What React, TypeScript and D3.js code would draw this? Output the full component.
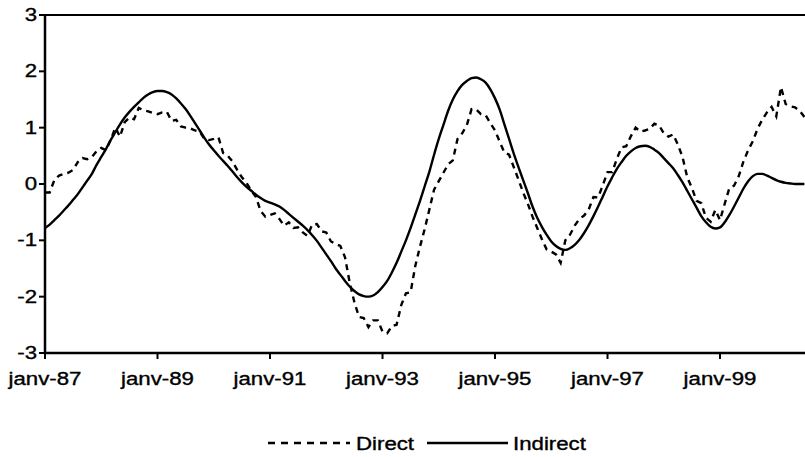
import React from "react";
import * as d3 from "d3";

// monthly values, janv-87 .. ~juil-00
const direct = [
  -0.15, -0.15, 0.07, 0.15, 0.18, 0.2, 0.25, 0.39, 0.46, 0.44, 0.48, 0.58,
  0.64, 0.6, 0.78, 1.0, 0.84, 1.1, 1.18, 1.15, 1.35, 1.31, 1.29, 1.26,
  1.24, 1.27, 1.28, 1.12, 1.14, 1.02, 1.0, 0.99, 0.95, 0.93, 0.8, 0.78,
  0.8, 0.83, 0.55, 0.5, 0.4, 0.25, 0.12, 0.02, -0.12, -0.23, -0.48, -0.58,
  -0.55, -0.52, -0.62, -0.74, -0.68, -0.78, -0.77, -0.86, -0.92, -0.72, -0.71, -0.84,
  -0.86, -1.02, -1.06, -1.1, -1.3, -1.75, -2.1, -2.36, -2.38, -2.54, -2.42, -2.42,
  -2.62, -2.65, -2.52, -2.5, -2.15, -1.94, -1.92, -1.45, -1.11, -0.8, -0.45, -0.1,
  0.05, 0.2, 0.35, 0.42, 0.8, 0.9, 1.05, 1.33, 1.32, 1.24, 1.22, 1.08,
  0.95, 0.75, 0.56, 0.52, 0.3, 0.08, -0.15, -0.35, -0.58, -0.78, -0.98, -1.16,
  -1.2, -1.25, -1.4, -1.0, -0.9, -0.74, -0.62, -0.56, -0.45, -0.23, -0.24, -0.02,
  0.21, 0.21, 0.45, 0.65, 0.67, 0.85, 1.0, 0.93, 0.95, 0.98, 1.07, 1.04,
  0.9, 0.84, 0.88, 0.7, 0.48, 0.12, -0.07, -0.3, -0.34, -0.6, -0.67, -0.46,
  -0.64, -0.35, -0.07, -0.03, 0.14, 0.4, 0.6, 0.76, 0.98, 1.14, 1.27, 1.37,
  1.2, 1.72, 1.42, 1.38, 1.36, 1.3, 1.19,
];

const indirect = [
  -0.78, -0.72, -0.64, -0.56, -0.47, -0.38, -0.28, -0.18, -0.06, 0.06, 0.18, 0.34,
  0.48, 0.62, 0.78, 0.92, 1.06, 1.18, 1.28, 1.37, 1.45, 1.53, 1.59, 1.63,
  1.65, 1.65, 1.63, 1.59, 1.52, 1.43, 1.33, 1.21, 1.08, 0.95, 0.82, 0.7,
  0.6, 0.5, 0.41, 0.32, 0.22, 0.12, 0.03, -0.05, -0.12, -0.19, -0.25, -0.3,
  -0.33, -0.36, -0.4, -0.46, -0.53, -0.6, -0.67, -0.74, -0.82, -0.91, -1.01, -1.13,
  -1.25, -1.37, -1.5, -1.61, -1.72, -1.82, -1.9, -1.96, -1.99, -2.0, -1.98, -1.92,
  -1.83, -1.72, -1.57, -1.4, -1.2, -1.0, -0.78, -0.54, -0.3, -0.04, 0.22, 0.52,
  0.8, 1.05, 1.3, 1.5, 1.65, 1.76, 1.83, 1.88, 1.89, 1.86, 1.8, 1.68,
  1.52, 1.32, 1.06, 0.8, 0.54, 0.3, 0.07, -0.16, -0.4, -0.6, -0.76, -0.9,
  -1.02, -1.1, -1.15, -1.17, -1.14, -1.08, -0.99, -0.87, -0.73, -0.57, -0.4, -0.22,
  -0.04, 0.12, 0.27, 0.39, 0.5, 0.58, 0.64, 0.67, 0.68, 0.66, 0.61, 0.55,
  0.46, 0.37, 0.28, 0.16, 0.03, -0.12, -0.27, -0.42, -0.57, -0.68, -0.76, -0.79,
  -0.77, -0.68, -0.55, -0.4, -0.24, -0.08, 0.05, 0.14, 0.18, 0.18, 0.15, 0.11,
  0.07, 0.04, 0.02, 0.01, 0.0, 0.0, 0.0,
];

const tickMonths = [0, 24, 48, 72, 96, 120, 144];
const tickLabels = ["janv-87", "janv-89", "janv-91", "janv-93", "janv-95", "janv-97", "janv-99"];
const yTicks = [-3, -2, -1, 0, 1, 2, 3];

const W = 805;
const H = 457;
const left = 45;
const right = 805;
const top = 15;
const bottom = 353;
const font = "Arial, 'Liberation Sans', sans-serif";
const stretch = 1.27;

function Label({x, y, anchor, children}: any) {
  return (
    <text
      transform={`translate(${x},${y}) scale(${stretch},1)`}
      textAnchor={anchor}
      fontFamily={font}
      fontSize={17.5}
      fill="#000"
      stroke="#000"
      strokeWidth={0.35}
    >
      {children}
    </text>
  );
}

export default function App() {
  const x = d3.scaleLinear().domain([0, 162]).range([left, 804.4]);
  const y = d3.scaleLinear().domain([-3, 3]).range([bottom, top]);

  const line = d3.line<number>()
    .x((d, i) => x(i))
    .y((d) => y(d));
  const smooth = d3.line<number>()
    .x((d, i) => x(i))
    .y((d) => y(d))
    .curve(d3.curveMonotoneX);

  return (
    <svg width={W} height={H} style={{position: "absolute", left: 0, top: 0, background: "#fff"}}>
      <rect width={W} height={H} fill="#fff" />
      <defs>
        <clipPath id="plot">
          <rect x={left} y={top - 5} width={right - left} height={bottom - top + 10} />
        </clipPath>
      </defs>

      {/* top frame line */}
      <line x1={left} x2={right} y1={top} y2={top} stroke="#000" strokeWidth={2} />

      <g clipPath="url(#plot)" fill="none" stroke="#000">
        <path d={line(direct) || ""} strokeWidth={2.4} strokeDasharray="6,5" />
        <path d={smooth(indirect) || ""} strokeWidth={2.4} />
      </g>

      {/* y axis */}
      <line x1={left} x2={left} y1={top} y2={bottom} stroke="#000" strokeWidth={2.5} />
      {yTicks.map((t) => (
        <g key={t}>
          <line x1={left - 6} x2={left} y1={y(t)} y2={y(t)} stroke="#000" strokeWidth={2} />
          <Label x={left - 8} y={y(t) + 6} anchor="end">{t}</Label>
        </g>
      ))}

      {/* x axis */}
      <line x1={left} x2={right} y1={bottom} y2={bottom} stroke="#000" strokeWidth={2.5} />
      {tickMonths.map((m, i) => (
        <g key={m}>
          <line x1={x(m)} x2={x(m)} y1={bottom} y2={bottom + 6} stroke="#000" strokeWidth={2} />
          <Label x={x(m)} y={385} anchor="middle">{tickLabels[i]}</Label>
        </g>
      ))}

      {/* legend */}
      <line x1={268} x2={350} y1={443} y2={443} stroke="#000" strokeWidth={2.4} strokeDasharray="7,6" />
      <Label x={356} y={450} anchor="start">Direct</Label>
      <line x1={427} x2={508} y1={443} y2={443} stroke="#000" strokeWidth={2.4} />
      <Label x={513} y={450} anchor="start">Indirect</Label>
    </svg>
  );
}
